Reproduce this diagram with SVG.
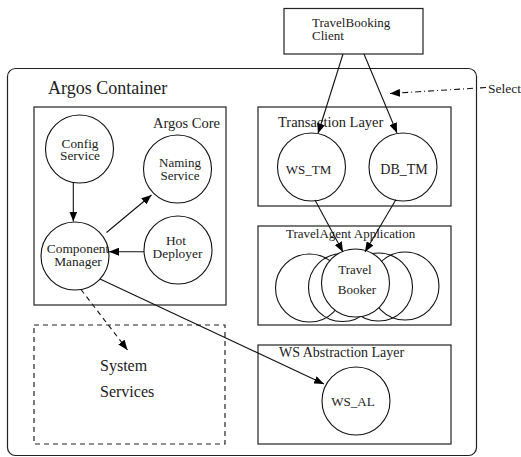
<svg xmlns="http://www.w3.org/2000/svg" width="521" height="457" viewBox="0 0 521 457">
  <defs>
    <marker id="arrow" markerUnits="userSpaceOnUse" markerWidth="11" markerHeight="8" refX="10" refY="4" orient="auto">
      <path d="M0,0 L10,4 L0,8 Z" fill="#000"/>
    </marker>
    <style>
      .box { fill: none; stroke: #222; stroke-width: 1.2; }
      .node { fill: #fff; stroke: #111; stroke-width: 1.1; }
      .ring { fill: none; stroke: #111; stroke-width: 1.1; }
      .edge { fill: none; stroke: #111; stroke-width: 1.1; marker-end: url(#arrow); }
      .dashed { stroke-dasharray: 5 4; }
      .dashdot { stroke-dasharray: 6 3 1 3; }
      .mid { text-anchor: middle; }
    </style>
  </defs>
  <rect width="521" height="457" fill="#fff"/>

  <g font-family="'Liberation Serif', 'Times New Roman', Times, serif" fill="#222">
  <!-- container frames -->
  <g id="argos-container">
    <rect class="box" x="7.5" y="68.5" width="469" height="387" rx="8"/>
    <text x="48" y="94" font-size="18">Argos Container</text>
  </g>
  <g id="argos-core">
    <rect class="box" x="34" y="107" width="192" height="198"/>
    <text x="153" y="128" font-size="14.5">Argos Core</text>
  </g>
  <g id="system-services">
    <rect class="box dashed" x="34" y="325" width="191" height="119" stroke="#333"/>
    <text x="100" y="371" font-size="16">System</text>
    <text x="100" y="397" font-size="16">Services</text>
  </g>
  <g id="transaction-layer">
    <rect class="box" x="258" y="107" width="193" height="99"/>
    <text x="278" y="127" font-size="14.5">Transaction Layer</text>
  </g>
  <g id="travelagent-application">
    <rect class="box" x="258" y="226" width="193" height="99"/>
    <text x="286" y="238" font-size="13">TravelAgent Application</text>
  </g>
  <g id="ws-abstraction-layer">
    <rect class="box" x="258" y="345" width="193" height="99"/>
    <text x="279" y="357" font-size="14">WS Abstraction Layer</text>
  </g>

  <!-- nodes -->
  <g id="travelbooking-client">
    <rect class="box" x="284" y="8.5" width="139" height="45.5" fill="#fff"/>
    <text x="312" y="27" font-size="13">TravelBooking</text>
    <text x="312" y="40" font-size="13">Client</text>
  </g>
  <g id="config-service">
    <circle class="node" cx="79.5" cy="149" r="34"/>
    <text class="mid" x="80" y="148" font-size="13.3">Config</text>
    <text class="mid" x="80" y="160" font-size="13.3">Service</text>
  </g>
  <g id="naming-service">
    <circle class="node" cx="177.5" cy="169" r="34"/>
    <text class="mid" x="180" y="167" font-size="13">Naming</text>
    <text class="mid" x="180" y="179.5" font-size="13">Service</text>
  </g>
  <g id="component-manager">
    <circle class="node" cx="75" cy="256" r="34"/>
    <text class="mid" x="78" y="253" font-size="13.4">Component</text>
    <text class="mid" x="78" y="265.5" font-size="13.4">Manager</text>
  </g>
  <g id="hot-deployer">
    <circle class="node" cx="178" cy="250" r="34"/>
    <text class="mid" x="176" y="245" font-size="13.4">Hot</text>
    <text class="mid" x="177.5" y="257.5" font-size="13.4">Deployer</text>
  </g>
  <g id="ws-tm">
    <circle class="node" cx="311.5" cy="167" r="34"/>
    <text class="mid" x="308.5" y="173.5" font-size="13">WS_TM</text>
  </g>
  <g id="db-tm">
    <circle class="node" cx="403" cy="167" r="34"/>
    <text class="mid" x="404" y="173.5" font-size="14">DB_TM</text>
  </g>
  <g id="travel-booker">
    <circle class="ring" cx="309.5" cy="288" r="34"/>
    <circle class="ring" cx="342.5" cy="287.5" r="34"/>
    <circle class="ring" cx="405" cy="286" r="34"/>
    <circle class="ring" cx="378.5" cy="287" r="34"/>
    <circle class="node" cx="355.5" cy="283" r="34"/>
    <text class="mid" x="355" y="273.5" font-size="13">Travel</text>
    <text class="mid" x="357" y="293.5" font-size="13">Booker</text>
  </g>
  <g id="ws-al">
    <circle class="node" cx="356" cy="401" r="34"/>
    <text class="mid" x="353" y="406" font-size="13">WS_AL</text>
  </g>
  <g id="select">
    <text x="488" y="93" font-size="13.5">Select</text>
  </g>
  </g>

  <!-- connectors -->
  <g id="connectors">
    <line class="edge" x1="343" y1="54" x2="318" y2="133.5"/>
    <line class="edge" x1="364" y1="54" x2="397" y2="133"/>
    <line class="edge" x1="315" y1="200" x2="343" y2="252"/>
    <line class="edge" x1="396" y1="199.5" x2="365" y2="252"/>
    <line class="edge" x1="73.3" y1="183" x2="73.3" y2="221.5"/>
    <line class="edge" x1="106.5" y1="232.5" x2="151.5" y2="195"/>
    <line class="edge" x1="144" y1="251.7" x2="109" y2="251.7"/>
    <line class="edge" x1="100" y1="279" x2="324" y2="384"/>
    <line class="edge dashed" x1="81" y1="289.5" x2="127.5" y2="350"/>
    <line class="edge dashdot" x1="486" y1="87.5" x2="390" y2="93.5"/>
  </g>
</svg>
